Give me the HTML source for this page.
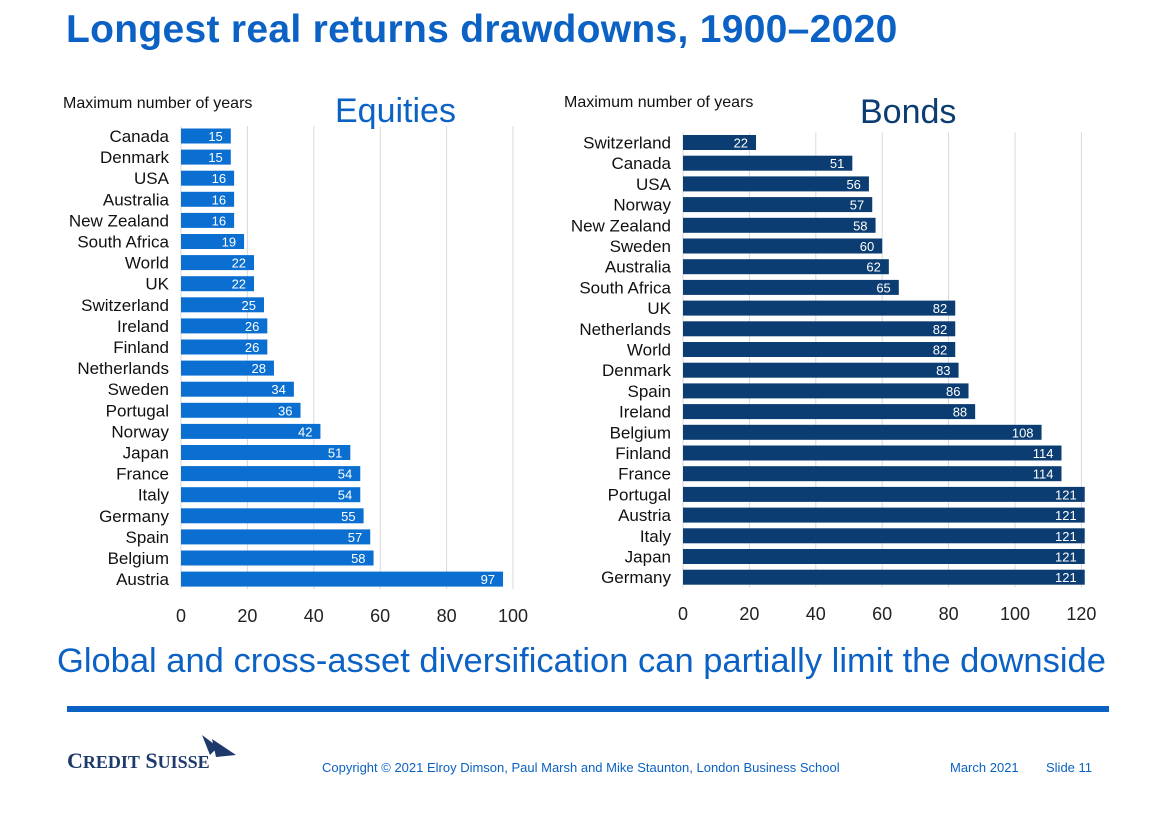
<!DOCTYPE html>
<html><head><meta charset="utf-8"><style>
body{margin:0;width:1155px;height:824px;background:#fff;font-family:"Liberation Sans",Arial,sans-serif;overflow:hidden;position:relative}
.t{position:absolute;white-space:nowrap}
</style></head><body>
<div class="t" style="left:66px;top:8px;font-size:39px;font-weight:bold;color:#0b62c4;letter-spacing:0.3px">Longest real returns drawdowns, 1900–2020</div>
<svg id="ch" width="1155" height="640" style="position:absolute;left:0;top:0"></svg>
<div class="t" style="left:57px;top:642px;font-size:34.5px;color:#0b62c4">Global and cross-asset diversification can partially limit the downside</div>
<div style="position:absolute;left:67px;top:706px;width:1042px;height:6px;background:#0b62c4"></div>
<div class="t" style="left:67px;top:748px;font-family:'Liberation Serif',serif;font-size:22px;font-weight:bold;color:#1d3a6b">C<span style="font-size:18px">REDIT</span> S<span style="font-size:18px">UISSE</span></div>
<svg style="position:absolute;left:200px;top:733px" width="40" height="30"><polygon points="2,2 18,14 10,22" fill="#1d3a6b"/><polygon points="12,6 36,22 16,24" fill="#1d3a6b"/></svg>
<div class="t" style="left:322px;top:760px;font-size:13px;color:#0b62c4">Copyright © 2021 Elroy Dimson, Paul Marsh and Mike Staunton, London Business School</div>
<div class="t" style="left:950px;top:760px;font-size:13px;color:#0b62c4">March 2021</div>
<div class="t" style="left:1046px;top:760px;font-size:13px;color:#0b62c4">Slide 11</div>
<script>
const eqCats=["Canada","Denmark","USA","Australia","New Zealand","South Africa","World","UK","Switzerland","Ireland","Finland","Netherlands","Sweden","Portugal","Norway","Japan","France","Italy","Germany","Spain","Belgium","Austria"];
const eqVals=[15,15,16,16,16,19,22,22,25,26,26,28,34,36,42,51,54,54,55,57,58,97];
const eqTicks=[0,20,40,60,80,100];
const bdCats=["Switzerland","Canada","USA","Norway","New Zealand","Sweden","Australia","South Africa","UK","Netherlands","World","Denmark","Spain","Ireland","Belgium","Finland","France","Portugal","Austria","Italy","Japan","Germany"];
const bdVals=[22,51,56,57,58,60,62,65,82,82,82,83,86,88,108,114,114,121,121,121,121,121];
const bdTicks=[0,20,40,60,80,100,120];
const svg=document.getElementById('ch');const NS='http://www.w3.org/2000/svg';
function mk(tag,a,txt){const e=document.createElementNS(NS,tag);for(const k in a)e.setAttribute(k,a[k]);if(txt!==undefined)e.textContent=txt;svg.appendChild(e);return e;}
function chart(cfg){
 const x=v=>cfg.x0+v*cfg.sc;const y=i=>cfg.y0+i*cfg.step;
 cfg.ticks.forEach(t=>{
  const g=mk('line',{x1:x(t),x2:x(t),y1:cfg.y0-10,y2:y(cfg.cats.length-1)+10,stroke:'#d9d9d9','stroke-width':1});
  
  const l=mk('text',{x:x(t),y:cfg.tickY,'font-size':18,'text-anchor':'middle',fill:'#222'},t);
  
 });
 cfg.cats.forEach((c,i)=>{
  const cy=y(i);
  const lab=mk('text',{x:cfg.x0-12,y:cy+6,'font-size':17,'text-anchor':'end',fill:'#111'},c);
  
  const r=mk('rect',{x:x(0),y:cy-7.5,width:cfg.vals[i]*cfg.sc,height:15,fill:cfg.col});
  
  const v=mk('text',{x:x(cfg.vals[i])-8,y:cy+5,'font-size':13,'text-anchor':'end',fill:'#fff'},cfg.vals[i]);
  
 });
}
chart({id:'equities',cats:eqCats,vals:eqVals,ticks:eqTicks,x0:181,sc:3.32,y0:136,step:21.1,tickY:622,col:'#0b6fd1'});
chart({id:'bonds',cats:bdCats,vals:bdVals,ticks:bdTicks,x0:683,sc:3.32,y0:142.5,step:20.7,tickY:620,col:'#0b3c72'});
let e;
e=mk('text',{x:63,y:108,'font-size':16,fill:'#111'},'Maximum number of years');
e=mk('text',{x:564,y:107,'font-size':16,fill:'#111'},'Maximum number of years');
e=mk('text',{x:335,y:122,'font-size':34,fill:'#0b62c4'},'Equities');
e=mk('text',{x:860,y:123,'font-size':34,fill:'#0b3c72'},'Bonds');
</script>
</body></html>
